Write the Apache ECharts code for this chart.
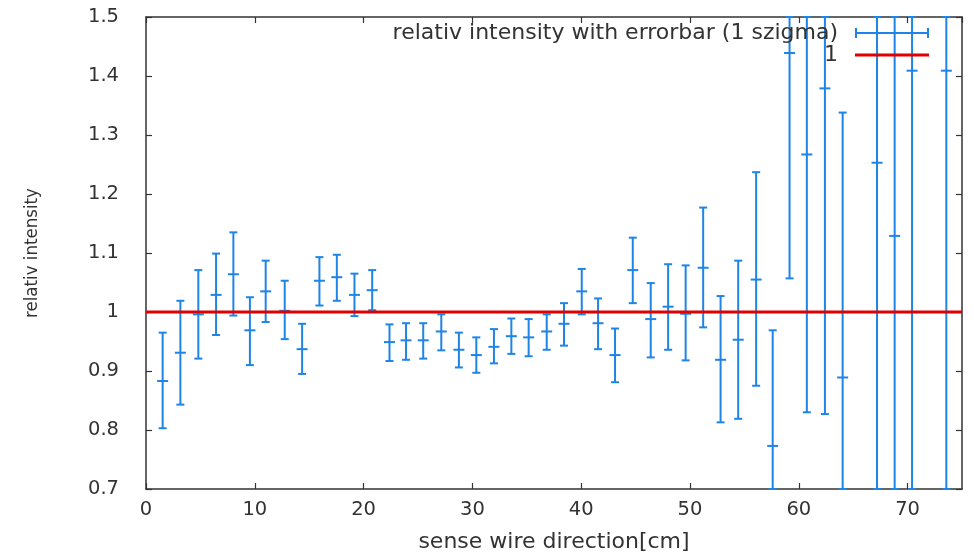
<!DOCTYPE html>
<html><head><meta charset="utf-8">
<script src="https://cdn.jsdelivr.net/npm/echarts@6/dist/echarts.min.js"></script>
<style>html,body{margin:0;padding:0;background:#fff}#c{width:974px;height:555px}</style>
</head><body><div id="c"></div>
<script>
// positions along sense wire [cm]
const xPos = [1.53,3.16,4.81,6.44,8.03,9.55,11.0,12.75,14.35,15.94,17.54,19.16,20.79,22.38,23.9,25.48,27.14,28.76,30.36,31.98,33.58,35.17,36.83,38.42,40.05,41.55,43.11,44.74,46.39,47.99,49.6,51.21,52.81,54.43,56.08,57.6,59.15,60.74,62.4,64.03,67.19,68.81,70.41,73.56];
// relative intensity (centre values)
const centerVal = [0.883,0.931,0.996,1.029,1.064,0.969,1.035,1.002,0.937,1.053,1.059,1.029,1.037,0.949,0.952,0.952,0.967,0.936,0.927,0.941,0.959,0.957,0.967,0.980,1.035,0.981,0.927,1.071,0.988,1.009,0.997,1.075,0.919,0.953,1.055,0.773,1.439,1.267,1.379,0.889,1.253,1.129,1.409,1.409];
// lower end of 1-sigma error bar
const lowVal = [0.803,0.843,0.921,0.961,0.994,0.910,0.983,0.954,0.895,1.011,1.019,0.993,1.003,0.917,0.919,0.921,0.935,0.906,0.897,0.913,0.929,0.925,0.936,0.943,0.996,0.937,0.881,1.015,0.923,0.936,0.918,0.974,0.813,0.819,0.875,0.577,1.057,0.830,0.827,0.440,0.55,0.60,0.62,0.60];
// upper end of 1-sigma error bar
const highVal = [0.965,1.019,1.071,1.099,1.135,1.025,1.087,1.053,0.980,1.093,1.097,1.065,1.071,0.979,0.981,0.981,0.996,0.965,0.957,0.971,0.989,0.988,0.996,1.015,1.073,1.023,0.972,1.126,1.049,1.081,1.079,1.177,1.027,1.087,1.237,0.969,1.821,1.704,1.931,1.338,1.95,1.66,2.2,2.2];
// reference line y = 1
const refX = [0, 75];
const refY = [1, 1];
const xTicks = {min:0, max:75, interval:10};
const yTicks = {min:0.7, max:1.5, interval:0.1};

const errName = 'relativ intensity with errorbar (1 szigma)';
const blue = '#1e84e6';
const red = '#e00000';
const axisCol = '#333';
const font = 'DejaVu Sans, sans-serif';
const fontCond = 'DejaVu Sans Condensed, DejaVu Sans, sans-serif';

const errData = xPos.map((x,i)=>[x, lowVal[i], centerVal[i], highVal[i]]);
const refData = refX.map((x,i)=>[x, refY[i]]);

function renderErr(params, api){
  const cs = params.coordSys;
  const top = cs.y, bot = cs.y + cs.height;
  const x = api.value(0);
  const pLow = api.coord([x, api.value(1)]);
  const pMid = api.coord([x, api.value(2)]);
  const pHigh = api.coord([x, api.value(3)]);
  const cx = pMid[0];
  const yLow = Math.min(bot, pLow[1]);
  const yHigh = Math.max(top, pHigh[1]);
  const cap = 4, mid = 5.5;
  const style = {stroke: blue, lineWidth: 2, fill: null};
  const children = [
    {type:'line', shape:{x1:cx, y1:yLow, x2:cx, y2:yHigh}, style},
    {type:'line', shape:{x1:cx-cap, y1:yLow, x2:cx+cap, y2:yLow}, style},
    {type:'line', shape:{x1:cx-cap, y1:yHigh, x2:cx+cap, y2:yHigh}, style}
  ];
  if (pMid[1] >= top && pMid[1] <= bot) {
    children.push({type:'line', shape:{x1:cx-mid, y1:pMid[1], x2:cx+mid, y2:pMid[1]}, style});
  }
  return {type:'group', children};
}

const chart = echarts.init(document.getElementById('c'), null, {renderer:'canvas'});
const tickStyle = {show:true, inside:true, length:6, lineStyle:{color:axisCol, width:1.2}};
chart.setOption({
  animation:false,
  backgroundColor:'#fff',
  grid:{left:146, right:12, top:17, bottom:66, show:false, containLabel:false, outerBoundsMode:'none'},
  legend:{
    orient:'vertical', right:40, top:17, align:'right', itemGap:0,
    itemWidth:74, itemHeight:10,
    textStyle:{fontFamily:font, fontSize:22, color:'#333', padding:[0,12,0,0]},
    data:[
      {name:errName, icon:'path://M0,4H74V6H0Z M0,0H2V10H0Z M72,0H74V10H72Z', itemStyle:{color:blue}},
      {name:'1', icon:'path://M0,3.5H74V6.5H0Z', itemStyle:{color:red}}
    ]
  },
  xAxis:[{
    type:'value', min:xTicks.min, max:xTicks.max, interval:xTicks.interval,
    position:'bottom',
    name:'sense wire direction[cm]', nameLocation:'middle', nameGap:42,
    nameTextStyle:{fontFamily:font, fontSize:22, color:'#333'},
    axisLine:{show:true, onZero:false, lineStyle:{color:axisCol, width:1.5}},
    axisTick:tickStyle,
    axisLabel:{fontFamily:font, fontSize:19.5, color:'#333', margin:11, showMaxLabel:false},
    splitLine:{show:false}
  },{
    type:'value', min:xTicks.min, max:xTicks.max, interval:xTicks.interval,
    position:'top',
    axisLine:{show:true, onZero:false, lineStyle:{color:axisCol, width:1.5}},
    axisTick:tickStyle, axisLabel:{show:false}, splitLine:{show:false}
  }],
  yAxis:[{
    type:'value', min:yTicks.min, max:yTicks.max, interval:yTicks.interval,
    position:'left',
    name:'relativ intensity', nameLocation:'middle', nameGap:104,
    nameTextStyle:{fontFamily:fontCond, fontSize:18.5, color:'#333'},
    axisLine:{show:true, onZero:false, lineStyle:{color:axisCol, width:1.5}},
    axisTick:tickStyle,
    axisLabel:{fontFamily:font, fontSize:19.5, color:'#333', margin:27,
      formatter:v=>{const r=Math.round(v*10)/10; return r===1?'1':r.toFixed(1);}},
    splitLine:{show:false}
  },{
    type:'value', min:yTicks.min, max:yTicks.max, interval:yTicks.interval,
    position:'right',
    axisLine:{show:true, onZero:false, lineStyle:{color:axisCol, width:1.5}},
    axisTick:tickStyle, axisLabel:{show:false}, splitLine:{show:false}
  }],
  series:[
    {name:errName, type:'custom', xAxisIndex:0, yAxisIndex:0, renderItem:renderErr,
      itemStyle:{color:blue}, encode:{x:0, y:[1,2,3]}, data:errData, z:2},
    {name:'1', type:'line', xAxisIndex:0, yAxisIndex:0, data:refData, showSymbol:false,
      lineStyle:{color:red, width:3}, itemStyle:{color:red}, z:3}
  ]
});
</script></body></html>
